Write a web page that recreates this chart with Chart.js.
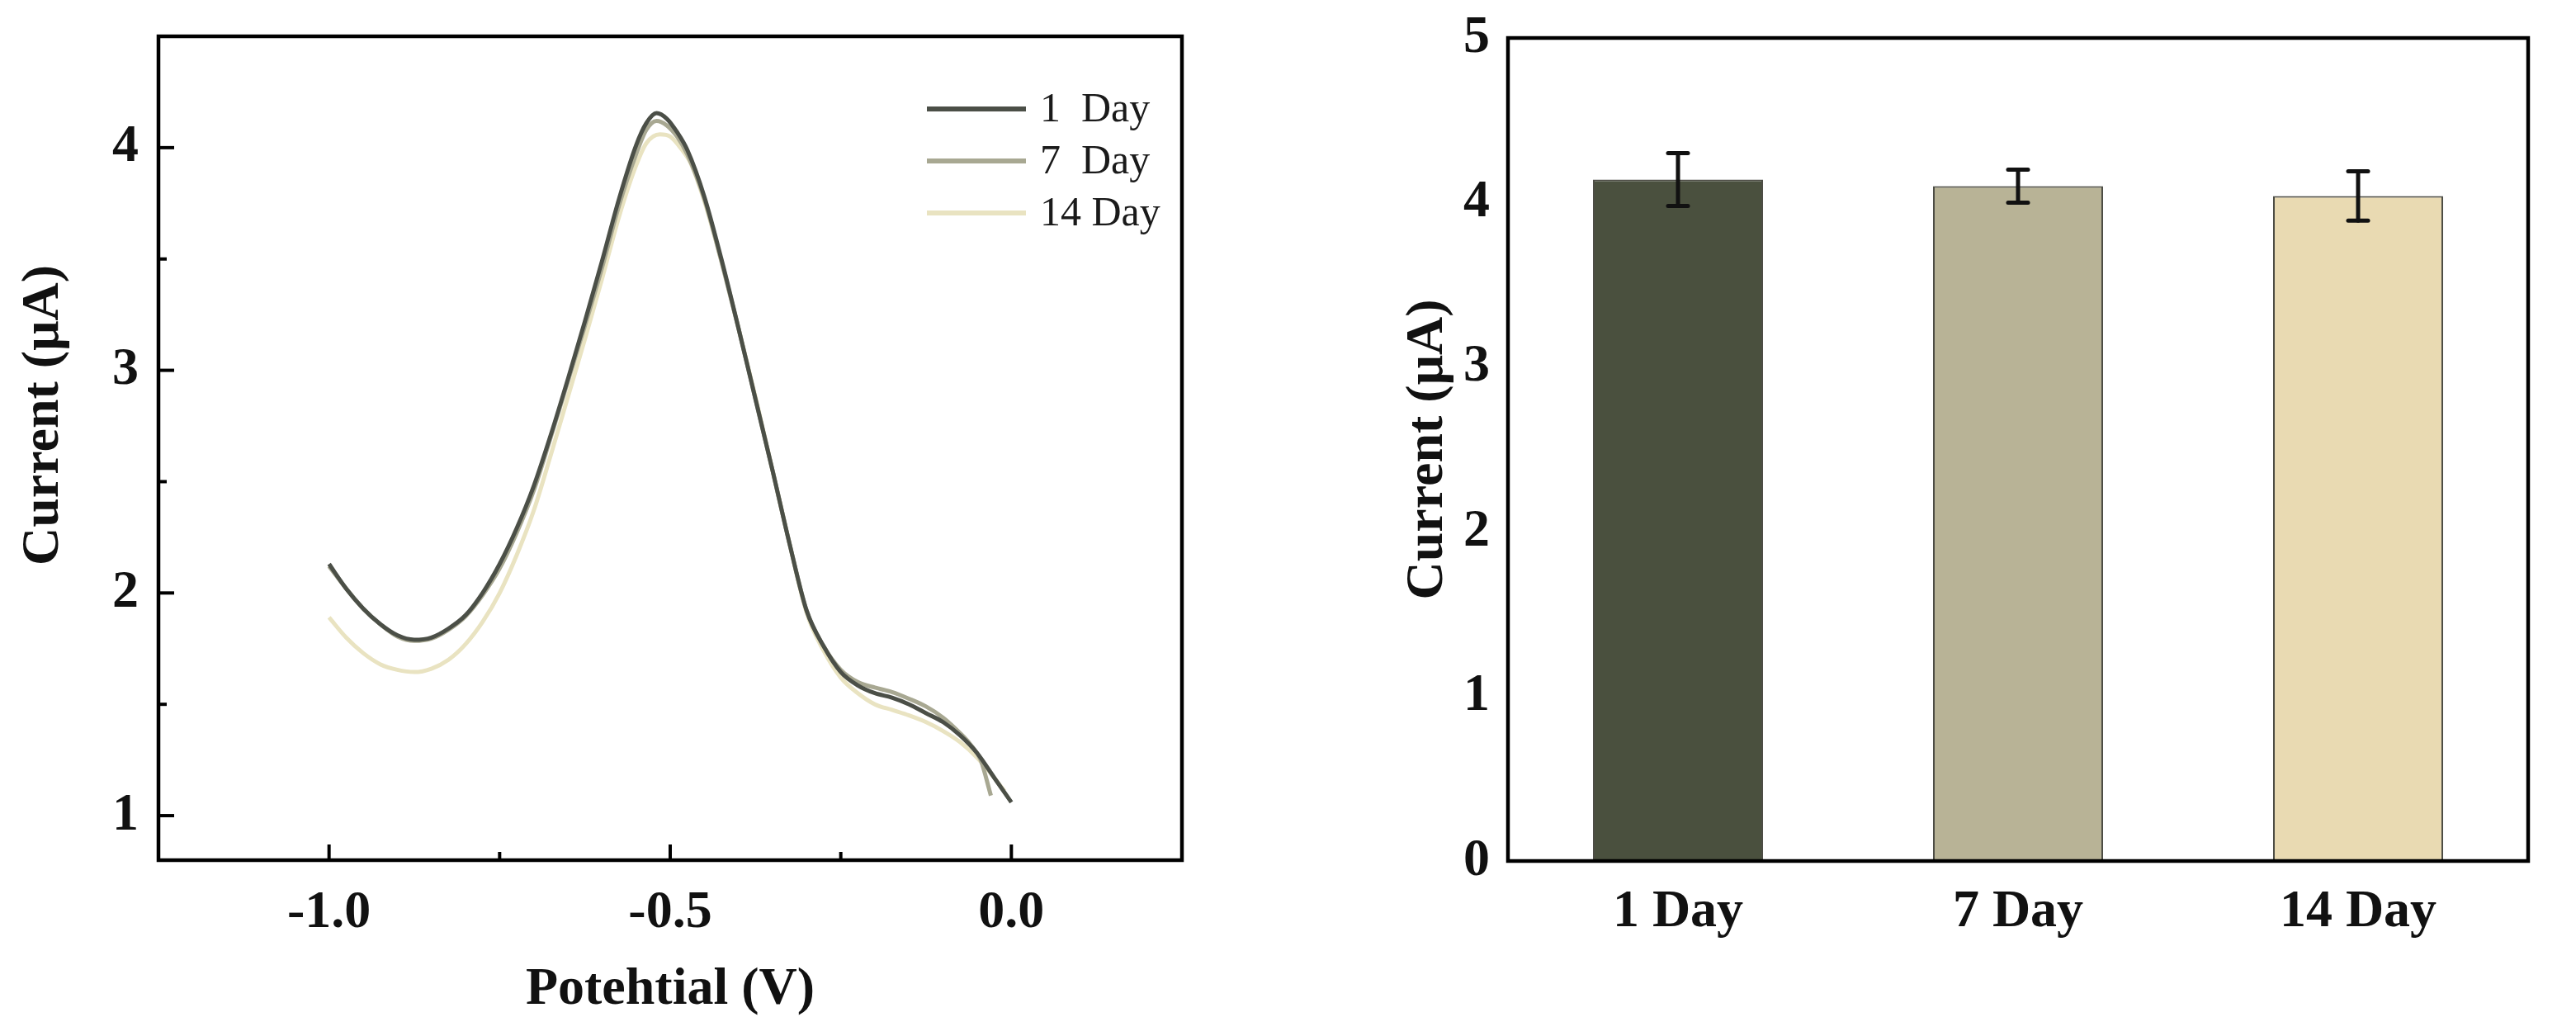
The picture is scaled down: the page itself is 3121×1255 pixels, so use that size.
<!DOCTYPE html>
<html>
<head>
<meta charset="utf-8">
<script src="https://cdn.jsdelivr.net/npm/chart.js@4.4.1/dist/chart.umd.min.js"></script>
<style>
  html, body { margin: 0; padding: 0; background: #ffffff; }
  body { width: 3121px; height: 1255px; position: relative; overflow: hidden; }
  #cv { position: absolute; left: 0; top: 0; }
  #bar { position: absolute; left: 1600px; top: 0; }
</style>
</head>
<body>
<canvas id="cv" width="1500" height="1255"></canvas>
<canvas id="bar" width="1521" height="1255"></canvas>
<script>
// ---------- Data: differential pulse voltammograms ----------
const seriesLabels = ['1  Day', '7  Day', '14 Day'];

const potential1 = [-1.0,-0.975,-0.95,-0.925,-0.9,-0.875,-0.85,-0.825,-0.8,-0.775,-0.75,-0.725,-0.7,-0.675,-0.65,-0.625,-0.6,-0.575,-0.55,-0.535,-0.52,-0.505,-0.49,-0.475,-0.45,-0.425,-0.4,-0.375,-0.35,-0.325,-0.3,-0.275,-0.25,-0.225,-0.2,-0.175,-0.15,-0.125,-0.1,-0.075,-0.05,-0.025,0.0];
const current1 = [2.13,2.02,1.93,1.86,1.81,1.79,1.80,1.84,1.90,2.00,2.13,2.29,2.48,2.71,2.96,3.22,3.49,3.77,4.01,4.11,4.155,4.13,4.07,3.99,3.78,3.50,3.19,2.87,2.55,2.22,1.92,1.76,1.645,1.585,1.55,1.53,1.50,1.46,1.42,1.36,1.28,1.17,1.06];

const potential7 = [-1.0,-0.975,-0.95,-0.925,-0.9,-0.875,-0.85,-0.825,-0.8,-0.775,-0.75,-0.725,-0.7,-0.675,-0.65,-0.625,-0.6,-0.575,-0.55,-0.535,-0.52,-0.505,-0.49,-0.475,-0.45,-0.425,-0.4,-0.375,-0.35,-0.325,-0.3,-0.275,-0.25,-0.225,-0.2,-0.175,-0.15,-0.125,-0.1,-0.075,-0.06,-0.045,-0.03];
const current7 = [2.12,2.02,1.93,1.86,1.805,1.785,1.795,1.835,1.895,1.99,2.11,2.27,2.46,2.70,2.95,3.20,3.46,3.74,3.97,4.08,4.12,4.10,4.05,3.97,3.77,3.49,3.19,2.87,2.55,2.22,1.92,1.76,1.655,1.60,1.575,1.555,1.525,1.49,1.44,1.37,1.32,1.25,1.09];

const potential14 = [-1.0,-0.975,-0.95,-0.925,-0.9,-0.875,-0.85,-0.825,-0.8,-0.775,-0.75,-0.725,-0.7,-0.675,-0.65,-0.625,-0.6,-0.575,-0.55,-0.535,-0.515,-0.5,-0.485,-0.47,-0.45,-0.425,-0.4,-0.375,-0.35,-0.325,-0.3,-0.275,-0.25,-0.225,-0.2,-0.175,-0.15,-0.125,-0.1,-0.075,-0.05,-0.025,-0.01];
const current14 = [1.89,1.80,1.73,1.68,1.655,1.645,1.66,1.70,1.77,1.87,2.00,2.17,2.37,2.62,2.88,3.14,3.41,3.69,3.92,4.02,4.06,4.05,4.00,3.93,3.76,3.49,3.19,2.88,2.55,2.22,1.91,1.74,1.62,1.55,1.50,1.475,1.45,1.42,1.38,1.33,1.26,1.17,1.11];

const lineColors = ['#4b4f47', '#a8a892', '#e9e3c1'];

const potentialTicks = [-1.0, -0.5, 0.0];
const potentialMinorTicks = [-0.75, -0.25];
const currentTicks = [1, 2, 3, 4];
const currentMinorTicks = [1.5, 2.5, 3.5];

// ---------- Data: bar chart ----------
const days = ['1 Day', '7 Day', '14 Day'];
const barCurrent = [4.14, 4.10, 4.04];
const barError = [0.16, 0.10, 0.15];
const barColors = ['#4a503e', '#b8b396', '#e9dab2'];
const barTicks = [0, 1, 2, 3, 4, 5];

// ---------- Common styling ----------
const SERIF = "'Liberation Serif', 'Times New Roman', serif";
Chart.defaults.font.family = SERIF;
Chart.defaults.color = '#111111';
const boldFont = { family: SERIF, size: 64, weight: 'bold' };

function toPoints(xs, ys) { return xs.map((x, i) => ({ x: x, y: ys[i] })); }
function noVPad(s) { s.paddingTop = 0; s.paddingBottom = 0; }
function noHPad(s) { s.paddingLeft = 0; s.paddingRight = 0; }

const framePlugin = {
  id: 'frame',
  afterDraw(chart, args, opts) {
    const { ctx, chartArea: a, scales } = chart;
    ctx.save();
    ctx.strokeStyle = '#000';
    ctx.lineCap = 'butt';
    if (opts.xMajor) {
      ctx.lineWidth = 4;
      const drawX = (vals, len) => vals.forEach(v => {
        const px = scales.x.getPixelForValue(v);
        ctx.beginPath(); ctx.moveTo(px, a.bottom); ctx.lineTo(px, a.bottom - len); ctx.stroke();
      });
      const drawY = (vals, len) => vals.forEach(v => {
        const py = scales.y.getPixelForValue(v);
        ctx.beginPath(); ctx.moveTo(a.left, py); ctx.lineTo(a.left + len, py); ctx.stroke();
      });
      drawX(opts.xMajor, 19); drawX(opts.xMinor, 10);
      drawY(opts.yMajor, 19); drawY(opts.yMinor, 10);
    }
    ctx.lineWidth = 4.5;
    ctx.strokeRect(a.left, a.top, a.right - a.left, a.bottom - a.top);
    if (opts.yTitle) {
      // y-axis title of the left panel, sitting slightly above the plot's middle
      ctx.fillStyle = '#111111';
      ctx.font = 'bold 64px ' + SERIF;
      ctx.textAlign = 'center';
      ctx.textBaseline = 'middle';
      ctx.translate(opts.yTitleX, (a.top + a.bottom) / 2 - 40);
      ctx.rotate(-Math.PI / 2);
      ctx.fillText(opts.yTitle, 0, 0);
    }
    ctx.restore();
  }
};

const legendPlugin = {
  id: 'insideLegend',
  afterDraw(chart) {
    const { ctx, chartArea: a } = chart;
    ctx.save();
    ctx.font = "50px " + SERIF;
    ctx.textBaseline = 'middle';
    ctx.textAlign = 'left';
    chart.data.datasets.forEach((ds, i) => {
      const y = a.top + 88 + i * 63;
      ctx.strokeStyle = ds.borderColor;
      ctx.lineWidth = 6;
      ctx.beginPath(); ctx.moveTo(a.right - 309, y); ctx.lineTo(a.right - 189, y); ctx.stroke();
      ctx.fillStyle = '#1a1a1a';
      ctx.fillText(ds.label, a.right - 172, y + 2);
    });
    ctx.restore();
  }
};

const errorBarPlugin = {
  id: 'errorBars',
  afterDatasetsDraw(chart) {
    const { ctx, scales } = chart;
    const meta = chart.getDatasetMeta(0);
    ctx.save();
    ctx.strokeStyle = '#111';
    ctx.lineWidth = 5;
    ctx.lineCap = 'round';
    meta.data.forEach((bar, i) => {
      const x = bar.x;
      const yt = scales.y.getPixelForValue(barCurrent[i] + barError[i]);
      const yb = scales.y.getPixelForValue(barCurrent[i] - barError[i]);
      ctx.beginPath(); ctx.moveTo(x, yt); ctx.lineTo(x, yb); ctx.stroke();
      ctx.beginPath(); ctx.moveTo(x - 12, yt); ctx.lineTo(x + 12, yt); ctx.stroke();
      ctx.beginPath(); ctx.moveTo(x - 12, yb); ctx.lineTo(x + 12, yb); ctx.stroke();
    });
    ctx.restore();
  }
};

// ---------- Left chart: voltammograms ----------
new Chart(document.getElementById('cv'), {
  type: 'line',
  data: {
    datasets: [
      { label: seriesLabels[0], data: toPoints(potential1, current1), borderColor: lineColors[0] },
      { label: seriesLabels[1], data: toPoints(potential7, current7), borderColor: lineColors[1] },
      { label: seriesLabels[2], data: toPoints(potential14, current14), borderColor: lineColors[2] }
    ]
  },
  options: {
    responsive: false,
    animation: false,
    devicePixelRatio: 1,
    layout: { padding: { top: 44, right: 68, left: 0, bottom: 0 } },
    elements: {
      line: { borderWidth: 5, tension: 0.4, cubicInterpolationMode: 'monotone', fill: false },
      point: { radius: 0 }
    },
    plugins: {
      legend: { display: false },
      tooltip: { enabled: false },
      frame: { xMajor: potentialTicks, xMinor: potentialMinorTicks, yMajor: currentTicks, yMinor: currentMinorTicks,
               yTitle: 'Current (μA)', yTitleX: 53 }
    },
    scales: {
      x: {
        type: 'linear', min: -1.25, max: 0.25,
        afterFit: s => { s.height = 213; noHPad(s); },
        afterBuildTicks: s => { s.ticks = potentialTicks.map(v => ({ value: v })); },
        grid: { display: false, drawTicks: false },
        border: { display: false },
        ticks: { font: boldFont, padding: 26, maxRotation: 0, callback: v => Number(v).toFixed(1) },
        title: { display: true, text: 'Potehtial (V)', font: boldFont, padding: { top: 0, bottom: 17 } }
      },
      y: {
        type: 'linear', min: 0.8, max: 4.5,
        afterFit: s => { s.width = 192; noVPad(s); },
        afterBuildTicks: s => { s.ticks = currentTicks.map(v => ({ value: v })); },
        grid: { display: false, drawTicks: false },
        border: { display: false },
        ticks: { font: boldFont, padding: 24 },
        title: { display: false }
      }
    }
  },
  plugins: [framePlugin, legendPlugin]
});

// ---------- Right chart: bar chart ----------
new Chart(document.getElementById('bar'), {
  type: 'bar',
  data: {
    labels: days,
    datasets: [{
      label: 'Current',
      data: barCurrent,
      backgroundColor: barColors,
      borderColor: '#4d4d45',
      borderWidth: 2,
      barPercentage: 0.5,
      categoryPercentage: 1.0
    }]
  },
  options: {
    responsive: false,
    animation: false,
    devicePixelRatio: 1,
    layout: { padding: { top: 46, right: 58, left: 0, bottom: 0 } },
    plugins: { legend: { display: false }, tooltip: { enabled: false }, frame: {} },
    scales: {
      x: {
        type: 'category',
        afterFit: s => { s.height = 212; noHPad(s); },
        grid: { display: false, drawTicks: false },
        border: { display: false },
        ticks: { font: boldFont, padding: 24, maxRotation: 0 }
      },
      y: {
        type: 'linear', min: 0, max: 5,
        afterFit: s => { s.width = 227; noVPad(s); },
        afterBuildTicks: s => { s.ticks = barTicks.map(v => ({ value: v })); },
        grid: { display: false, drawTicks: false },
        border: { display: false },
        ticks: { font: boldFont, padding: 22 },
        title: { display: true, text: 'Current (μA)', font: boldFont, padding: { top: 92, bottom: 0 } }
      }
    }
  },
  plugins: [framePlugin, errorBarPlugin]
});
</script>
</body>
</html>
